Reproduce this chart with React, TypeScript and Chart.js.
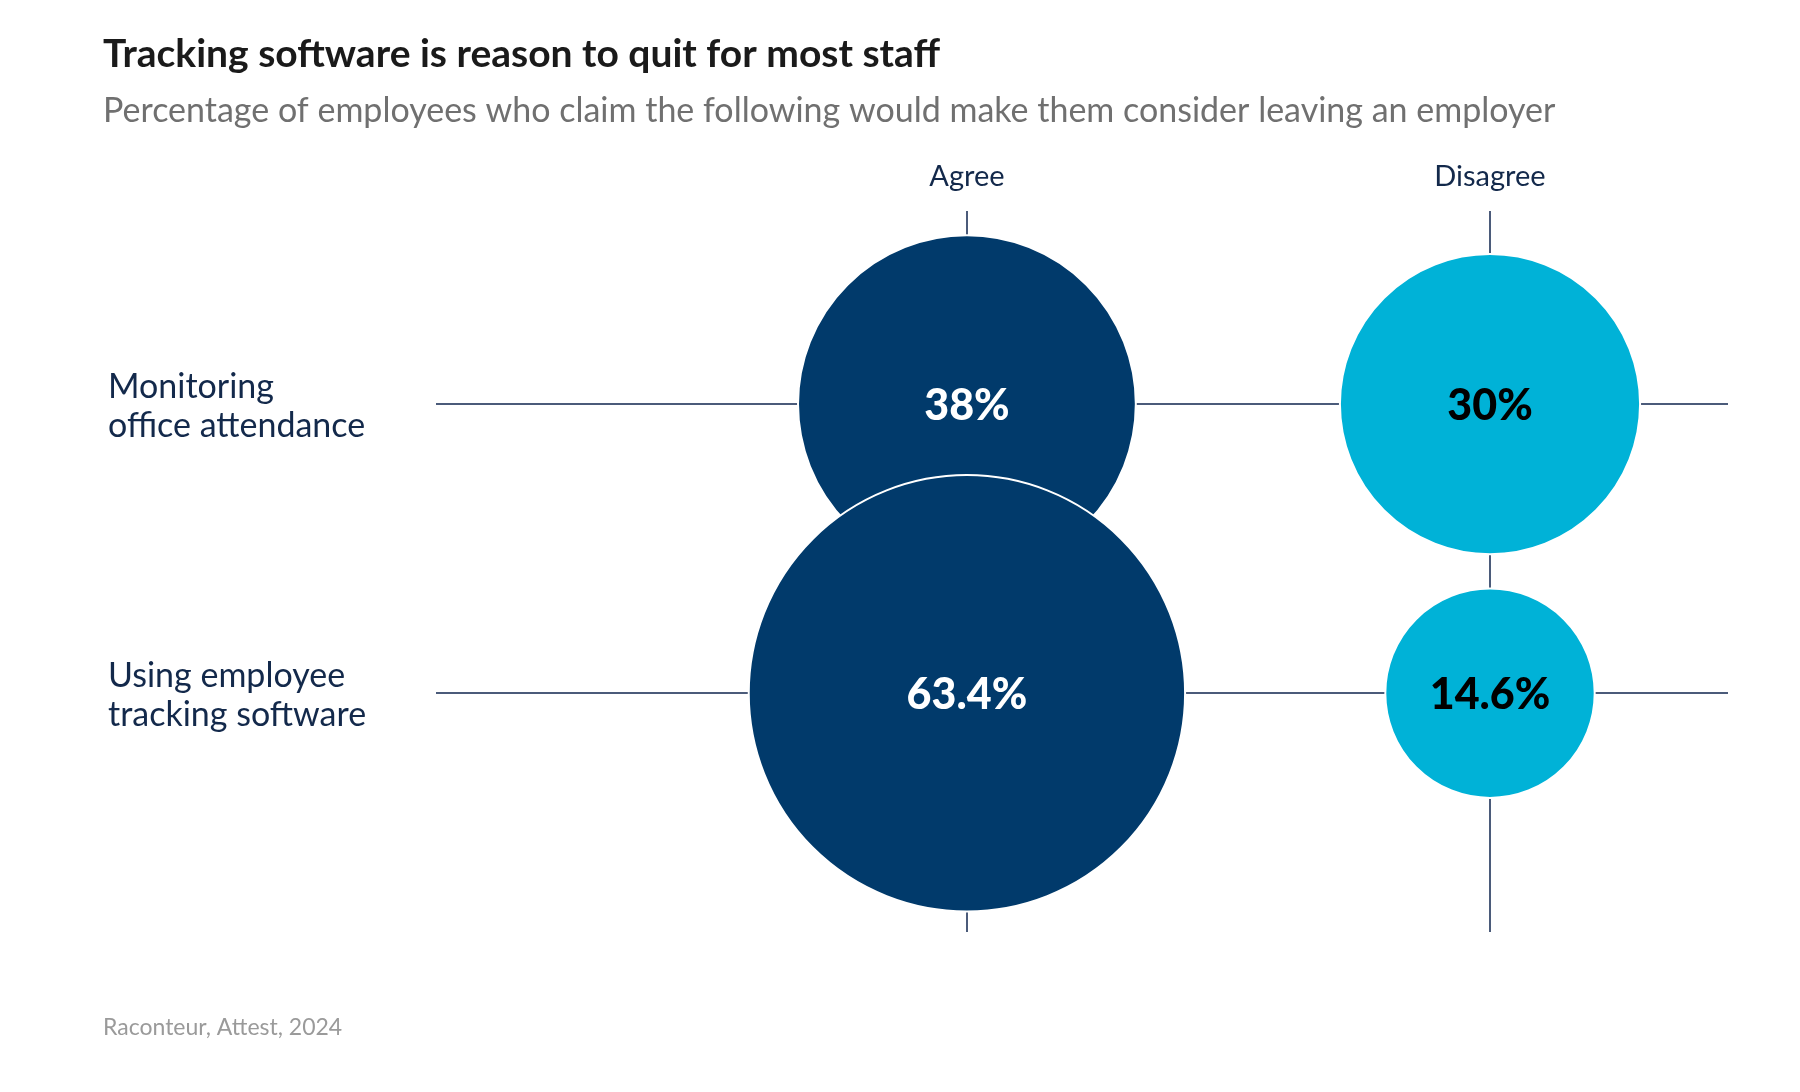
import React, { useEffect, useRef } from 'react';
import { Chart, registerables } from 'chart.js';

Chart.register(...registerables);

const titleText = 'Tracking software is reason to quit for most staff';
const subtitleText = 'Percentage of employees who claim the following would make them consider leaving an employer';
const sourceText = 'Raconteur, Attest, 2024';
const responses = ['Agree', 'Disagree'];
const categories = [
  ['Monitoring', 'office attendance'],
  ['Using employee', 'tracking software'],
];
const agreeValues = [38, 63.4];
const disagreeValues = [30, 14.6];
const valueLabels = [
  ['38%', '63.4%'],
  ['30%', '14.6%'],
];

const FONT = 'Lato, "Noto Sans", sans-serif';
const NAVY = '#013a6b';
const CYAN = '#00b2d7';
const TEXT_NAVY = '#13294b';
const LINE = '#4b5b7a';
const RADIUS_K = 27.4;

const textPlugin = {
  id: 'texts',
  beforeDraw(chart: any) {
    const ctx = chart.ctx;
    ctx.save();
    ctx.textAlign = 'left';
    ctx.textBaseline = 'alphabetic';
    ctx.fillStyle = '#1a1a1a';
    ctx.font = `bold 39px ${FONT}`;
    ctx.fillText(titleText, 103, 67);
    ctx.fillStyle = '#707070';
    ctx.font = `34px ${FONT}`;
    ctx.fillText(subtitleText, 103, 122);
    ctx.fillStyle = '#9a9a9a';
    ctx.font = `23px ${FONT}`;
    ctx.fillText(sourceText, 103, 1035);

    const xs = chart.scales.x;
    const ys = chart.scales.y;
    ctx.fillStyle = TEXT_NAVY;
    ctx.textAlign = 'center';
    ctx.font = `29px ${FONT}`;
    responses.forEach((r, i) => {
      ctx.fillText(r, xs.getPixelForValue(i), 186);
    });
    ctx.textAlign = 'left';
    ctx.font = `34px ${FONT}`;
    categories.forEach((lines, i) => {
      const y = ys.getPixelForValue(i);
      lines.forEach((l, j) => ctx.fillText(l, 108, y - 6 + j * 39));
    });
    ctx.restore();
  },
  afterDatasetsDraw(chart: any) {
    const ctx = chart.ctx;
    ctx.save();
    ctx.textAlign = 'center';
    ctx.textBaseline = 'alphabetic';
    ctx.font = `900 43px ${FONT}`;
    chart.data.datasets.forEach((ds: any, di: number) => {
      const meta = chart.getDatasetMeta(di);
      ctx.fillStyle = di === 0 ? '#ffffff' : '#000000';
      meta.data.forEach((pt: any, i: number) => {
        ctx.fillText(valueLabels[di][i], pt.x, pt.y + 16);
      });
    });
    ctx.restore();
  },
};

export default function App() {
  const ref = useRef<HTMLCanvasElement>(null);
  useEffect(() => {
    if (!ref.current) return;
    const mk = (vals: number[], col: number) =>
      vals.map((v, i) => ({ x: col, y: i, v }));
    const chart = new Chart(ref.current, {
      type: 'bubble',
      data: {
        datasets: [
          {
            label: responses[0],
            data: mk(agreeValues, 0) as any,
            backgroundColor: NAVY,
            borderColor: '#ffffff',
            borderWidth: 2,
            radius: (c: any) => Math.sqrt(c.raw.v) * RADIUS_K,
            hoverRadius: 0,
            clip: false as any,
          },
          {
            label: responses[1],
            data: mk(disagreeValues, 1) as any,
            backgroundColor: CYAN,
            borderColor: '#ffffff',
            borderWidth: 2,
            radius: (c: any) => Math.sqrt(c.raw.v) * RADIUS_K,
            hoverRadius: 0,
            clip: false as any,
          },
        ],
      },
      options: {
        animation: false,
        responsive: false,
        devicePixelRatio: 1,
        layout: { autoPadding: false, padding: { left: 436, top: 211, right: 72, bottom: 160 } },
        plugins: { legend: { display: false }, tooltip: { enabled: false } },
        events: [],
        scales: {
          x: {
            type: 'linear',
            min: -1.015,
            max: 1.455,
            afterBuildTicks: (s: any) => {
              s.ticks = responses.map((_, i) => ({ value: i }));
            },
            ticks: { display: false },
            border: { display: false },
            grid: { color: LINE, lineWidth: 2, drawTicks: false },
          },
          y: {
            type: 'linear',
            reverse: true,
            min: -0.668,
            max: 1.826,
            afterBuildTicks: (s: any) => {
              s.ticks = categories.map((_, i) => ({ value: i }));
            },
            ticks: { display: false },
            border: { display: false },
            grid: { color: LINE, lineWidth: 2, drawTicks: false },
          },
        },
      } as any,
      plugins: [textPlugin],
    });
    return () => chart.destroy();
  }, []);
  return (
    <div style={{ position: 'absolute', left: 0, top: 0, width: 1800, height: 1092, background: '#fff' }}>
      <canvas ref={ref} width={1800} height={1092} style={{ width: 1800, height: 1092 }} />
    </div>
  );
}
